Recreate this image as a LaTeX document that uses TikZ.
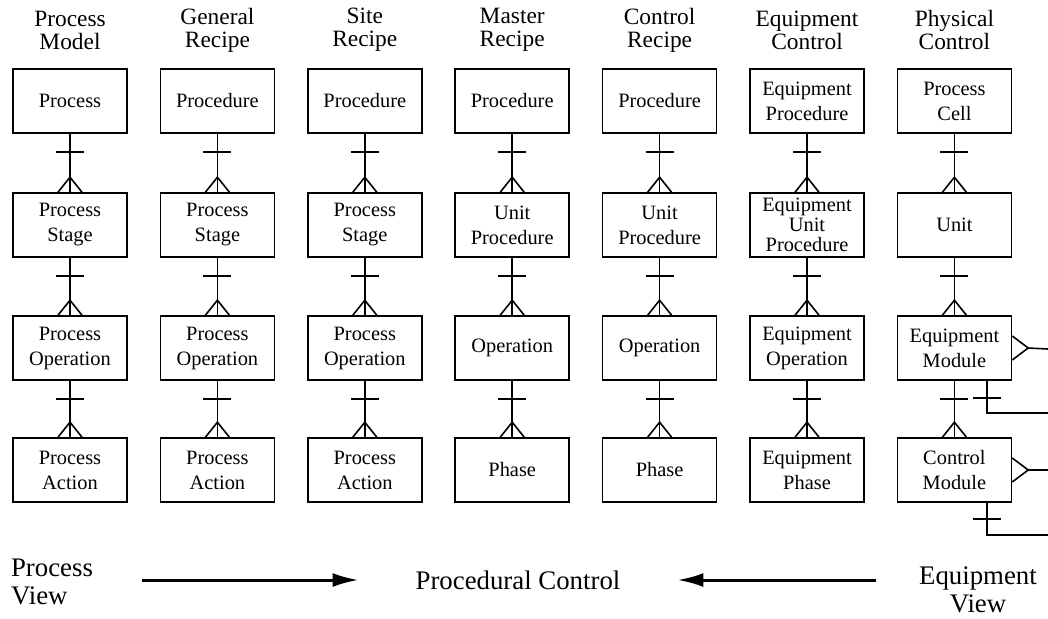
\documentclass[tikz,border=0pt]{standalone}
\usepackage{fontspec}
\setmainfont{Liberation Serif}
\usepackage{tikz}
\usetikzlibrary{arrows.meta}

\tikzset{
  box/.style={draw, line width=0.8pt, minimum width=57pt, minimum height=32pt, inner sep=1pt, align=center, font=\fontsize{10.2}{12.5}\selectfont},
  head/.style={align=center, font=\fontsize{11.7}{11.5}\selectfont},
  view/.style={font=\fontsize{13.4}{14}\selectfont},
  link/.style={line width=0.8pt}
}
\newcommand{\onemany}[2]{%
  \draw[link] (#1.south) -- (#2.north);
  \draw[link] ([yshift=-9pt]#1.south) ++(-7pt,0) -- ++(14pt,0);
  \draw[link] ([xshift=-6pt]#2.north) -- ([yshift=7.5pt]#2.north) -- ([xshift=6pt]#2.north);
}

\begin{document}
\begin{tikzpicture}[x=0.5pt,y=-0.5pt]
  \useasboundingbox (0,0) rectangle (1048,618);
  \foreach \hd/\ra/\rb/\rc/\rd [count=\i] in {
    {Process\\Model}/Process/{Process\\Stage}/{Process\\Operation}/{Process\\Action},
    {General\\Recipe}/Procedure/{Process\\Stage}/{Process\\Operation}/{Process\\Action},
    {Site\\Recipe}/Procedure/{Process\\Stage}/{Process\\Operation}/{Process\\Action},
    {Master\\Recipe}/Procedure/{Unit\\Procedure}/Operation/Phase,
    {Control\\Recipe}/Procedure/{Unit\\Procedure}/Operation/Phase,
    {Equipment\\Control}/{Equipment\\Procedure}/{Equipment\\[-2.5pt]Unit\\[-2.5pt]Procedure}/{Equipment\\Operation}/{Equipment\\Phase},
    {Physical\\Control}/{Process\\Cell}/Unit/{Equipment\\Module}/{Control\\Module}}
  {
    \node[head] (h\i) at ({70+147.4*(\i-1)},30) {\hd};
    \node[box] (b\i1) at ({70+147.4*(\i-1)},101) {\ra};
    \node[box] (b\i2) at ({70+147.4*(\i-1)},225) {\rb};
    \node[box] (b\i3) at ({70+147.4*(\i-1)},348) {\rc};
    \node[box] (b\i4) at ({70+147.4*(\i-1)},470) {\rd};
  }
  \foreach \i in {1,...,7}
    \foreach \r/\s in {1/2,2/3,3/4}
      {\onemany{b\i\r}{b\i\s}}

  \coordinate (emr) at (1048,349);
  \coordinate (emd) at (1048,413);
  \coordinate (cmr) at (1048,470);
  \coordinate (cmd) at (1048,535);
  \draw[link] (emr) -- ([xshift=8pt]b73.east);
  \draw[link] ([yshift=6pt]b73.east) -- ([xshift=8pt]b73.east) -- ([yshift=-6pt]b73.east);
  \draw[link] ([xshift=-12.5pt]b73.south east) |- (emd);
  \draw[link] ([xshift=-12.5pt,yshift=-8.5pt]b73.south east) ++(-7pt,0) -- ++(14pt,0);
  \draw[link] (cmr) -- ([xshift=8pt]b74.east);
  \draw[link] ([yshift=6pt]b74.east) -- ([xshift=8pt]b74.east) -- ([yshift=-6pt]b74.east);
  \draw[link] ([xshift=-12.5pt]b74.south east) |- (cmd);
  \draw[link] ([xshift=-12.5pt,yshift=-8pt]b74.south east) ++(-7pt,0) -- ++(14pt,0);

  \node[view, align=left, anchor=west] (pv) at (4,582) {Process\\View};
  \node[view] (pc) at (518,580) {Procedural Control};
  \node[view, align=center] (ev) at (978,590) {Equipment\\View};
  \draw[line width=1.5pt, -{Latex[length=13pt,width=7pt]}, shorten <=21pt, shorten >=25pt] (pv.east |- pc.west) -- (pc.west);
  \draw[line width=1.5pt, -{Latex[length=13pt,width=7pt]}, shorten <=18pt, shorten >=25pt] (ev.west |- pc.east) -- (pc.east);
\end{tikzpicture}
\end{document}
